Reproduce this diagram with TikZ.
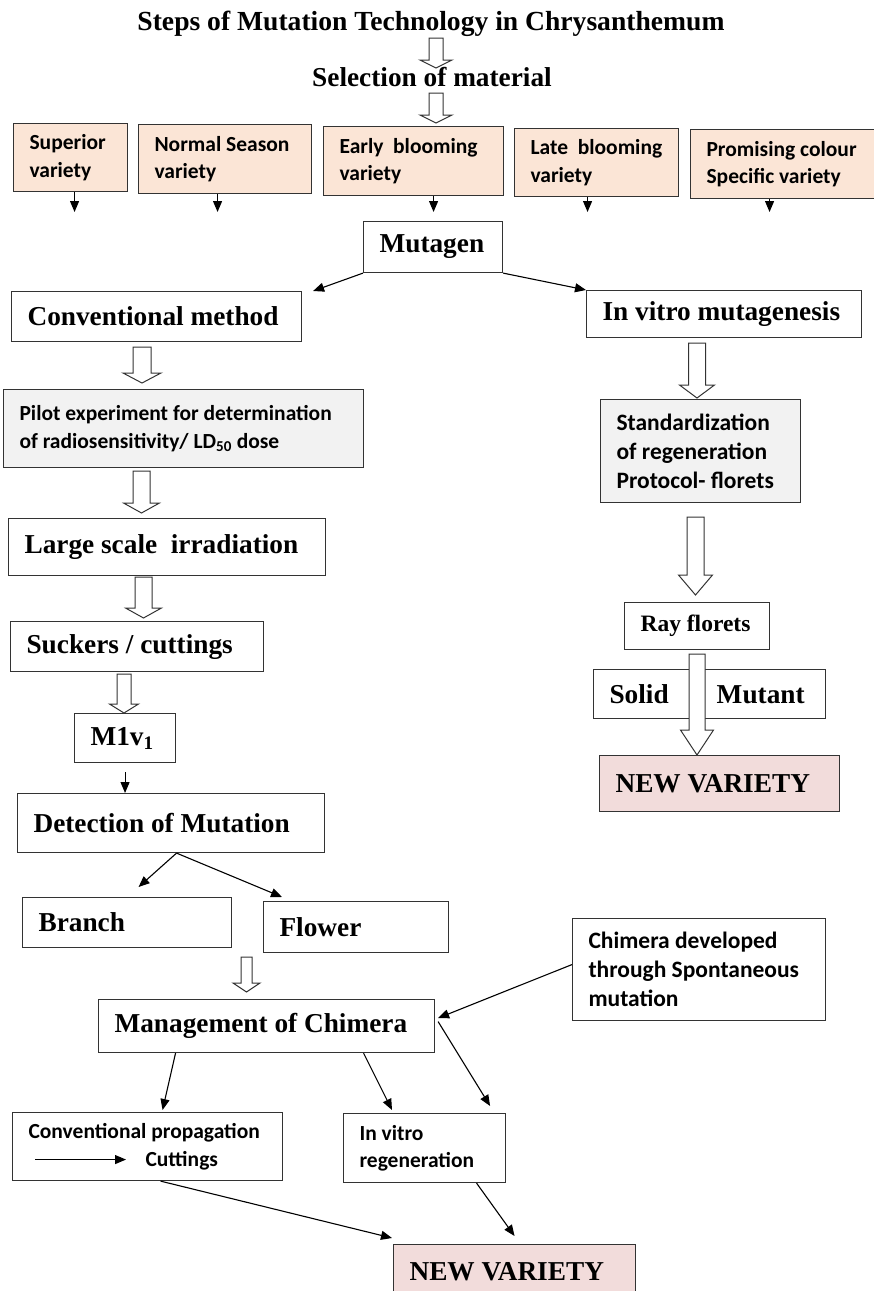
\documentclass[tikz,border=0pt]{standalone}
\usepackage{fontspec}
\setmainfont{Liberation Serif}
\newfontfamily\calibrifont{Carlito}
\usepackage{xcolor}
\definecolor{peach}{RGB}{251,229,214}
\definecolor{paleGrey}{RGB}{242,242,242}
\definecolor{rosepink}{RGB}{242,220,219}
\usetikzlibrary{arrows.meta}

% hollow block arrow: x, top, tip, shaft half width, head half width, head length
\newcommand{\blockarrow}[6]{%
  \draw[blockarr] (#1-#4,#2) -- (#1+#4,#2) -- (#1+#4,#3-#6) -- (#1+#5,#3-#6)
    -- (#1,#3) -- (#1-#5,#3-#6) -- (#1-#4,#3-#6) -- cycle;}

\begin{document}
\begin{tikzpicture}[x=1pt, y=-1pt,
  box/.style={rectangle, draw=black!80, line width=1.1pt, anchor=north west,
              inner xsep=16pt, inner ysep=0pt, align=flush left},
  serifbox/.style={box, font=\fontsize{27.3}{31}\selectfont\bfseries},
  sansbox/.style={box, font=\calibrifont\fontsize{21.5}{27.5}\selectfont\bfseries},
  bigsans/.style={font=\calibrifont\fontsize{23.5}{28.8}\selectfont\bfseries},
  peachbox/.style={sansbox, fill=peach},
  greybox/.style={sansbox, fill=paleGrey},
  newbox/.style={serifbox, fill=rosepink},
  headline/.style={font=\fontsize{27.6}{31}\selectfont\bfseries, inner sep=0pt, anchor=base},
  thinarr/.style={-{Triangle[length=11pt,width=9pt]}, line width=1.1pt},
  blockarr/.style={draw=black!80, line width=1pt, fill=white, line join=miter}
]
\fill[white] (0,0) rectangle (874,1291);
\useasboundingbox (0,0) rectangle (874,1291);

%% heading
\node[headline] (title) at (431,30) {Steps of Mutation Technology in Chrysanthemum};
\node[headline, font=\fontsize{27.3}{31}\selectfont\bfseries] (select) at (432,86) {Selection of material};

%% material row
\node[peachbox, text width=82pt,  minimum height=68pt] (sup)   at (13,123)  {Superior\\variety};
\node[peachbox, text width=141pt, minimum height=69pt] (norm)  at (138,124) {Normal Season\\variety};
\node[peachbox, text width=148pt, minimum height=69pt] (early) at (323,126) {\mbox{Early~ blooming}\\variety};
\node[peachbox, text width=132pt, minimum height=68pt] (late)  at (514,128) {\mbox{Late~ blooming}\\variety};
\node[peachbox, text width=154pt, minimum height=69pt] (prom)  at (690,129) {\mbox{Promising colour}\\\mbox{Specific variety}};

\node[serifbox, text width=107pt, minimum height=51pt] (mut) at (363,221) {Mutagen};

%% conventional branch
\node[serifbox, text width=258pt, minimum height=50pt] (conv)    at (11,291)  {Conventional method};
\node[greybox,  text width=328pt, minimum height=78pt] (pilot)   at (3,389)   {\mbox{Pilot experiment for determination}\\of radiosensitivity/ LD\textsubscript{50} dose};
\node[serifbox, text width=285pt, minimum height=57pt] (large)   at (8,518)   {\mbox{Large scale~ irradiation}};
\node[serifbox, text width=221pt, minimum height=50pt] (suck)    at (10,621)  {Suckers / cuttings};
\node[serifbox, text width=69pt,  minimum height=49pt] (m1)      at (74,713)  {M1v\textsubscript{1}};
\node[serifbox, text width=275pt, minimum height=59pt] (det)     at (17,793)  {Detection of Mutation};
\node[serifbox, text width=177pt, minimum height=50pt] (branch)  at (22,897)  {Branch};
\node[serifbox, text width=153pt, minimum height=51pt] (flower)  at (263,901) {Flower};
\node[sansbox, bigsans, text width=221pt, minimum height=102pt] (chim) at (572,918) {Chimera developed\\\mbox{through Spontaneous}\\mutation};
\node[serifbox, text width=304pt, minimum height=53pt] (mgmt)    at (98,999)  {\mbox{Management of Chimera}};
\node[sansbox,  text width=238pt, minimum height=68pt] (cprop)   at (12,1112) {\mbox{Conventional propagation}\\\hspace*{117pt}Cuttings};
\node[sansbox,  text width=130pt, minimum height=69pt] (invreg)  at (343,1113) {In vitro\\regeneration};
\node[newbox,   text width=210pt, minimum height=54pt] (newb)    at (393,1244) {NEW VARIETY};

%% in vitro branch
\node[serifbox, text width=243pt, minimum height=47pt] (inv)   at (586,290) {In vitro mutagenesis};
\node[greybox, bigsans, text width=168pt, minimum height=103pt] (std) at (600,399) {Standardization\\of regeneration\\\mbox{Protocol- florets}};
\node[serifbox, text width=113pt, minimum height=47pt, font=\fontsize{23.5}{27}\selectfont\bfseries] (ray) at (624,602) {Ray florets};
\node[serifbox, text width=200pt, minimum height=49pt] (solid) at (593,669) {Solid\hspace*{48pt}Mutant};
\node[newbox,   text width=208pt, minimum height=56pt] (newa)  at (599,755) {NEW VARIETY};

%% thin arrows
\foreach \b/\dx in {sup/4,norm/-7.5,early/20,late/-9,prom/-14}
  \draw[thinarr] ([xshift=\dx pt]\b.south) -- ([xshift=\dx pt]\b.south |- 0,212);

\draw[thinarr] (mut.south west) -- ([xshift=11pt]conv.north east);
\draw[thinarr] (mut.south east) -- (inv.north west);

\draw[thinarr] ([yshift=-9pt]m1.south) -- (m1.south |- det.north);
\draw[thinarr] ([xshift=5.5pt]det.south) -- ([xshift=11.5pt,yshift=10pt]branch.north);
\draw[thinarr] ([xshift=5.5pt]det.south) -- ([xshift=19pt,yshift=4pt]flower.north west);

\draw[thinarr] ([yshift=5pt]chim.west) -- ([xshift=3pt,yshift=8pt]mgmt.east);
\draw[thinarr] ([xshift=3pt,yshift=4.5pt]mgmt.east) -- ([xshift=-16pt,yshift=7pt]invreg.north east);
\draw[thinarr] ([xshift=-91pt]mgmt.south) -- ([xshift=15pt,yshift=2pt]cprop.north);
\draw[thinarr] ([xshift=97pt]mgmt.south) -- ([xshift=49pt,yshift=3pt]invreg.north west);
\draw[thinarr] ([xshift=13pt]cprop.south) -- ([xshift=-1pt,yshift=6pt]newb.north west);
\draw[thinarr] ([xshift=52pt]invreg.south) -- ([yshift=8pt]newb.north);

% arrow inside the propagation box
\draw[thinarr] ([xshift=23pt,yshift=-13pt]cprop.west) -- ++(91pt,0);

%% hollow arrows
\blockarrow{436}{38}{68}{7}{16}{8}
\blockarrow{436}{93}{123}{7}{16}{8}
\blockarrow{142}{347}{383}{9}{19}{10}
\blockarrow{141.5}{471}{513}{8.5}{18}{10}
\blockarrow{143.5}{577}{618}{8.5}{18}{10}
\blockarrow{124}{674}{713}{7}{14.5}{9}
\blockarrow{246.5}{957}{992}{5.5}{13.5}{9}
\blockarrow{697}{343}{398}{8.5}{17.5}{13}
\blockarrow{695.5}{517}{595}{8.5}{17}{20}
\blockarrow{697}{654}{755}{8}{16.5}{25}

\end{tikzpicture}
\end{document}
